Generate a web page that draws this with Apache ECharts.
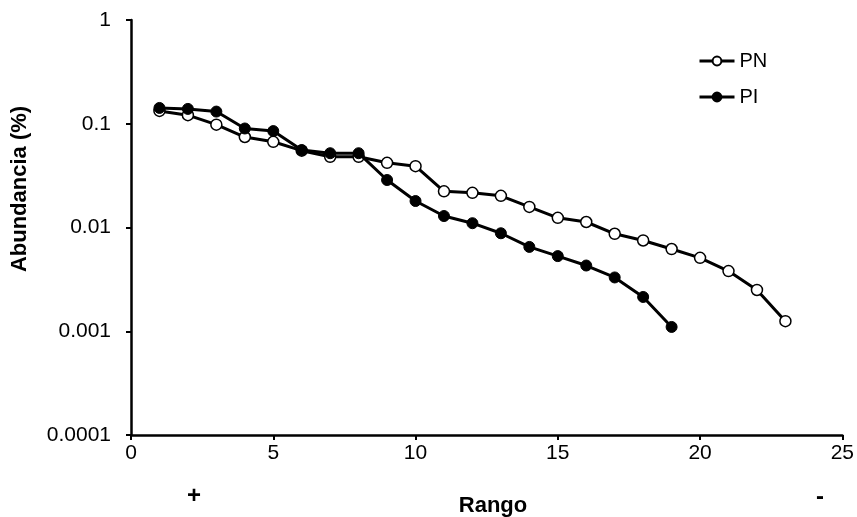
<!DOCTYPE html>
<html>
	<head>
		<meta charset="utf-8">
		<title></title>
		<script src="https://cdn.jsdelivr.net/npm/echarts@6/dist/echarts.min.js"></script>
		<style type="text/css">
			body {
				margin: 0;
				background: #ffffff;
			}

			#chart {
				width: 857px;
				height: 517px;
			}
		</style>
	</head>
	<body>
		<div id="chart"></div>
		<script>
			// rango (rank) and abundancia for the two sites
			var rangoPN = [1, 2, 3, 4, 5, 6, 7, 8, 9, 10, 11, 12, 13, 14, 15, 16, 17, 18, 19, 20, 21, 22, 23];
			var abundPN = [0.133, 0.121, 0.098, 0.0745, 0.067, 0.055, 0.048, 0.048, 0.042, 0.039, 0.0223, 0.0216, 0.0202,
				0.0158, 0.0124, 0.0113, 0.0087, 0.0075, 0.0062, 0.0051, 0.0038, 0.0025, 0.00125];
			var rangoPI = [1, 2, 3, 4, 5, 6, 7, 8, 9, 10, 11, 12, 13, 14, 15, 16, 17, 18, 19];
			var abundPI = [0.142, 0.139, 0.131, 0.09, 0.085, 0.0558, 0.052, 0.052, 0.0287, 0.018, 0.0129, 0.011, 0.0088,
				0.0065, 0.0053, 0.0043, 0.0033, 0.00214, 0.0011];
			var xTicks = [0, 5, 10, 15, 20, 25];
			var yTicks = [0.0001, 0.001, 0.01, 0.1, 1];

			var font = 'Liberation Sans, Arial, sans-serif';

			function pairs(xs, ys) {
				return xs.map(function(x, i) {
					return [x, ys[i]];
				});
			}

			function label(txt, x, y, size, rot) {
				return {
					type: 'text',
					x: x,
					y: y,
					rotation: rot || 0,
					style: {
						text: txt,
						fontFamily: font,
						fontSize: size,
						fontWeight: 'bold',
						fill: '#000',
						align: 'center',
						verticalAlign: 'middle'
					}
				};
			}

			var chart = echarts.init(document.getElementById('chart'));
			var option = {
				backgroundColor: '#ffffff',
				animation: false,
				grid: {
					left: 131,
					right: 14,
					top: 20,
					bottom: 82
				},
				legend: {
					orient: 'vertical',
					left: 693,
					top: 46,
					itemGap: 16,
					itemWidth: 35,
					itemHeight: 11,
					lineStyle: { width: 3, color: '#000' },
					textStyle: {
						fontFamily: font,
						fontSize: 20,
						color: '#000'
					},
					data: ['PN', 'PI']
				},
				xAxis: {
					type: 'value',
					min: xTicks[0],
					max: xTicks[xTicks.length - 1],
					interval: 5,
					splitLine: { show: false },
					axisLine: { onZero: false, lineStyle: { color: '#000', width: 2.5 } },
					axisTick: { show: true, length: 5, lineStyle: { color: '#000', width: 2 } },
					axisLabel: { fontFamily: font, fontSize: 21, color: '#000', margin: 8 }
				},
				yAxis: {
					type: 'log',
					logBase: 10,
					min: yTicks[0],
					max: yTicks[yTicks.length - 1],
					splitLine: { show: false },
					minorTick: { show: false },
					axisLine: { show: true, lineStyle: { color: '#000', width: 2.5 } },
					axisTick: { show: true, length: 5, lineStyle: { color: '#000', width: 2 } },
					axisLabel: {
						fontFamily: font,
						fontSize: 21,
						color: '#000',
						margin: 20,
						formatter: function(v) {
							return String(Number(v.toPrecision(1)));
						}
					}
				},
				graphic: [
					label('Abundancia (%)', 20, 189, 22, Math.PI / 2),
					label('Rango', 493, 506, 22),
					label('+', 194, 496, 24),
					label('-', 820, 497, 24)
				],
				series: [{
					name: 'PN',
					type: 'line',
					data: pairs(rangoPN, abundPN),
					symbol: 'circle',
					symbolSize: 11,
					lineStyle: { color: '#000', width: 3 },
					itemStyle: { color: '#ffffff', borderColor: '#000', borderWidth: 1.5 },
					z: 2
				}, {
					name: 'PI',
					type: 'line',
					data: pairs(rangoPI, abundPI),
					symbol: 'circle',
					symbolSize: 11,
					lineStyle: { color: '#000', width: 3 },
					itemStyle: { color: '#000', borderColor: '#000', borderWidth: 1 },
					z: 3
				}]
			};
			chart.setOption(option);
		</script>
	</body>
</html>
